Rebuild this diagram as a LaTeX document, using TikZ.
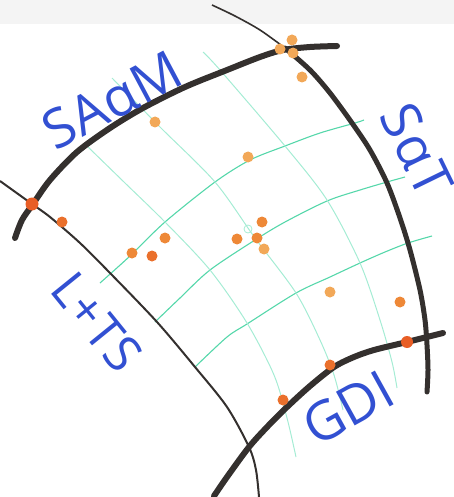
\documentclass[tikz,border=0pt]{standalone}
\usepackage{fontspec}
\setsansfont{Open Sans}
\definecolor{ink}{RGB}{52,48,46}
\definecolor{gridc}{RGB}{85,215,170}
\definecolor{gridlt}{RGB}{165,236,212}
\definecolor{marker}{RGB}{50,80,210}
\definecolor{dotA}{RGB}{232,94,38}
\definecolor{dotR}{RGB}{234,112,44}
\definecolor{dotM}{RGB}{238,136,55}
\definecolor{dotL}{RGB}{242,168,88}
\definecolor{boardtop}{RGB}{244,244,244}
\tikzset{
  boldink/.style={draw=ink, line width=6pt, line cap=round},
  midink/.style={draw=ink, line width=5pt, line cap=round},
  thinink/.style={draw=ink, line width=2pt},
  gridarc/.style={draw=gridc, line width=1.1pt},
  gridrad/.style={draw=gridlt, line width=1pt},
  lbl/.style={text=marker, font=\sffamily\fontsize{54}{54}\selectfont, inner sep=0pt},
  pdot/.style={circle, inner sep=0pt, minimum size=11pt, fill=#1},
}
\begin{document}
\begin{tikzpicture}[x=1pt,y=-1pt]
\useasboundingbox (0,0) rectangle (454,497);
\fill[boardtop] (0,0) rectangle (454,24);
% green grid arcs
\draw[gridarc] plot[smooth] coordinates {(100,283) (130,256) (165,222) (215,182) (250,160) (285,146) (320,133) (355,123) (364,120)};
\draw[gridarc] plot[smooth] coordinates {(155,322) (180,298) (210,270) (255,240) (285,222) (327,201) (360,190) (387,182) (405,177)};
\draw[gridarc] plot[smooth] coordinates {(195,367) (227,337) (247,324) (296,293) (330,277) (360,263) (385,252) (408,243) (432,236)};
% green grid radials
\draw[gridrad] plot[smooth] coordinates {(87,146) (125,183) (165,222) (210,270) (247,323) (274,375) (287,418) (296,457)};
\draw[gridrad] plot[smooth] coordinates {(112,78) (160,127) (215,182) (255,238) (296,293) (320,340) (334,375) (343,410)};
\draw[gridrad] plot[smooth] coordinates {(203,52) (220,70) (285,146) (327,200) (360,263) (380,320) (392,362) (397,388)};
\node[circle, draw=gridlt, line width=0.8pt, minimum size=8pt, inner sep=0pt] (hc) at (248,229) {};
% main curves
\draw[thinink] plot[smooth] coordinates {(0,181) (32,204) (50,217) (80,243) (110,273) (157,322) (195,367) (227,407) (249,447) (256,470) (259,497)};
\draw[thinink, line width=1.6pt] plot[smooth] coordinates {(212,5) (235,16) (260,30) (285,48)};
\draw[midink] plot[smooth] coordinates {(285,48) (310,70) (330,93) (352,123) (370,150) (387,183) (400,218) (410,250) (420,290) (425,320) (427,345) (428,370) (427,392)};
\draw[boldink] plot[smooth] coordinates {(15,238) (22,220) (33,204) (50,180) (77,152) (110,128) (143,108) (185,87) (227,70) (260,57) (283,50) (310,47) (337,46)};
\draw[boldink] plot[smooth] coordinates {(214,496) (227,477) (249,447) (268,426) (287,407) (310,386) (334,367) (354,357) (374,350) (407,342) (427,337) (443,333)};
% labels
\node[lbl, rotate=28] (saam) at (112,100) {SA\kern1pt α\kern1pt M};
\node[lbl, rotate=-64] (sat) at (417,150) {S\kern2pt α\kern2pt T};
\node[lbl, rotate=-51, font=\sffamily\fontsize{50}{50}\selectfont] (lts) at (97,322) {L+TS};
\node[lbl, rotate=29] (gdi) at (348,408) {GDI};
% dots
\node[pdot=dotA, minimum size=13pt] (d1) at (32,204) {};
\node[pdot=dotR] (d2) at (62,222) {};
\node[pdot=dotL] (d3) at (155,122) {};
\node[pdot=dotL] (d4) at (248,157) {};
\node[pdot=dotL] (d5) at (280,49) {};
\node[pdot=dotL] (d6) at (292,40) {};
\node[pdot=dotL] (d7) at (293,53) {};
\node[pdot=dotL] (d8) at (302,77) {};
\node[pdot=dotM] (d9) at (132,253) {};
\node[pdot=dotR] (d10) at (152,256) {};
\node[pdot=dotM] (d11) at (165,238) {};
\node[pdot=dotM] (d12) at (237,239) {};
\node[pdot=dotM] (d13) at (262,222) {};
\node[pdot=dotM] (d14) at (257,238) {};
\node[pdot=dotL] (d15) at (264,249) {};
\node[pdot=dotL] (d16) at (330,292) {};
\node[pdot=dotM] (d17) at (400,302) {};
\node[pdot=dotA, minimum size=12pt] (d18) at (407,342) {};
\node[pdot=dotR] (d19) at (330,365) {};
\node[pdot=dotR] (d20) at (283,400) {};
\end{tikzpicture}
\end{document}
